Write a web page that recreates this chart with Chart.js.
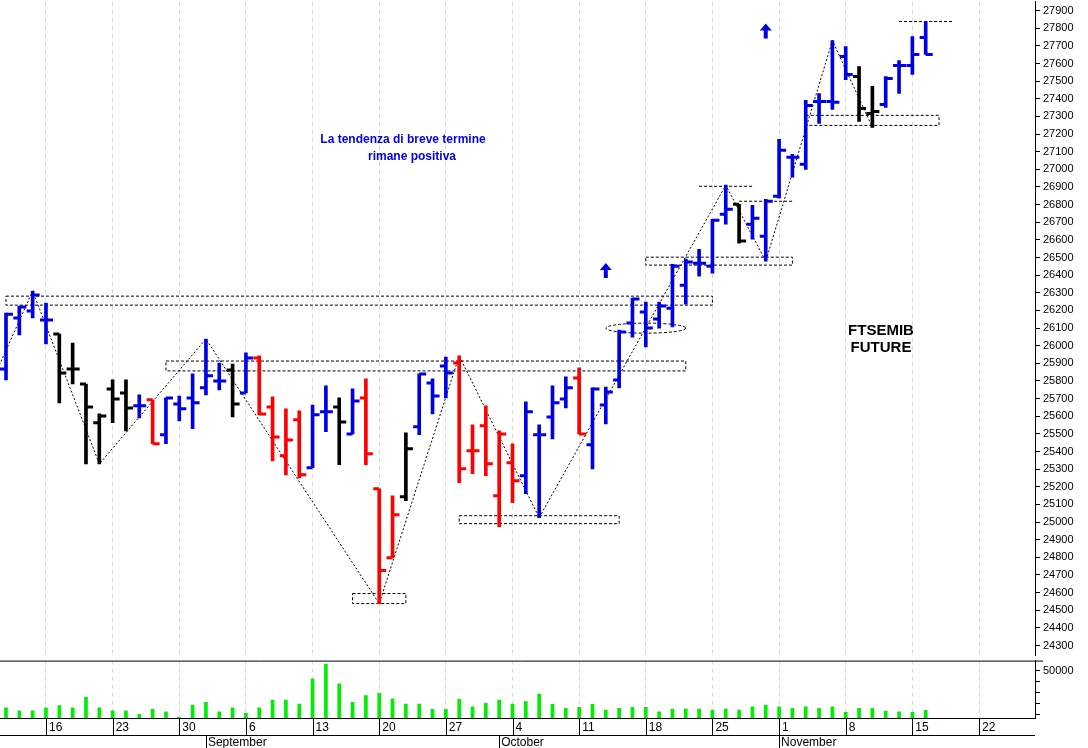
<!DOCTYPE html>
<html>
<head>
<meta charset="utf-8">
<script src="https://cdn.jsdelivr.net/npm/chart.js@4"></script>
<style>
  body { margin: 0; background: #fff; overflow: hidden; }
  #wrap { position: relative; width: 1088px; height: 748px; overflow: hidden; }
  #priceBox { position: absolute; left: 0; top: -8px; width: 1088px; height: 673px; }
  #volBox { position: absolute; left: 0; top: 651px; width: 1088px; height: 97px; }
</style>
</head>
<body>
<div id="wrap">
  <div id="priceBox"><canvas id="priceChart"></canvas></div>
  <div id="volBox"><canvas id="volChart"></canvas></div>
</div>
<script>
"use strict";

// trading day index 0 = Wed 11 Aug
const opens  = [25868,26157,26197,26145,26066,25868,25783,25563,25755,25732,25659,25693,25495,25670,25704,25761,25800,25862,25732,25930,25653,25376,25580,25308,25625,25653,25500,25704,25189,24798,25144,25540,25789,25885,25902,25404,25546,25149,25336,25263,25495,25596,25698,25817,25438,25664,25806,26129,26191,26151,26213,26343,26468,26451,26745,26802,26689,26621,26847,27068,27029,27385,27385,27640,27526,27317,27368,27589,27589,27747];
const highs  = [26185,26225,26310,26242,26066,26015,25783,25613,25806,25806,25721,25693,25704,25715,25840,26038,25902,25896,25959,25942,25710,25642,25630,25664,25772,25704,25755,25812,25189,25149,25506,25840,25812,25936,25942,25551,25659,25517,25444,25682,25551,25772,25823,25874,25761,25766,26089,26270,26248,26248,26462,26491,26547,26717,26910,26802,26796,26830,27170,27085,27391,27430,27730,27696,27583,27470,27526,27617,27753,27838];
const lows   = [25806,26061,26157,26010,25676,25783,25330,25330,25563,25517,25591,25444,25444,25574,25529,25721,25749,25596,25732,25608,25347,25268,25251,25308,25512,25325,25500,25325,24538,24798,25121,25495,25613,25704,25223,25274,25263,24974,25110,25161,25025,25472,25647,25500,25302,25557,25761,26049,25993,26100,26106,26236,26394,26411,26689,26581,26604,26479,26836,26955,27000,27260,27340,27509,27272,27238,27351,27430,27538,27651];
const closes = [26179,26220,26287,26145,25845,25868,25653,25602,25698,25647,25659,25444,25704,25642,25676,25829,25800,25670,25930,25613,25483,25466,25268,25608,25625,25568,25687,25387,24725,25042,25416,25840,25715,25845,25302,25404,25330,25500,25234,25625,25495,25676,25761,25500,25755,25738,26078,26265,26100,26225,26451,26474,26468,26711,26774,26593,26723,26819,27108,27068,27362,27385,27380,27538,27345,27328,27515,27589,27651,27651];
// trend signal per bar: 1 positive, -1 negative, 0 neutral
const trend  = [1,1,1,1,0,0,0,0,0,0,1,-1,1,1,1,1,1,0,1,-1,-1,-1,-1,1,1,0,1,-1,-1,-1,0,1,1,1,-1,-1,-1,-1,-1,1,1,1,1,-1,1,1,1,1,1,1,1,1,1,1,1,0,1,1,1,1,1,1,1,1,0,0,1,1,1,1];
const volumes = [16000,13200,13200,16000,17900,16000,25600,16000,13200,13200,9900,14500,12300,7100,18500,21000,12300,16000,10800,16000,23100,23100,19400,42600,56200,38000,21000,27100,29300,24100,19400,19400,14500,14500,23800,16900,20100,23100,19400,21600,28700,19200,15500,16400,19200,13900,15500,16400,16400,12300,14800,14800,14800,13900,14800,13900,16900,18500,16900,15500,16900,15500,16900,11700,15500,15500,12900,12300,11700,13600];

const mondayIdx = [3,8,13,18,23,28,33,38,43,48,53,58,63,68,73];
const mondayLabels = ["16","23","30","6","13","20","27","4","11","18","25","1","8","15","22"];
const monthStarts = [15,37,58];
const monthNames = ["September","October","November"];

// support / resistance boxes [x0, x1, priceLow, priceHigh]
const boxes = [[0,53,26230,26281],[12,51,25857,25913],[26,30,24538,24595],[34,46,24991,25036],[48,59,26457,26502],[60,70,27249,27306]];
const zones = [[45,51,26071,26128]];
const levels = [[52,56,26904],[55,59,26819],[67,71,27838]];
const swingX = [-0.5,2,7,15,28,34,40,54,57,62,65];
const swingY = [25890,26310,25330,26038,24538,25942,25025,26910,26479,27730,27238];
const arrowsX = [45,57];
const arrowsY = [26423,27781];

const X_MIN = -0.45, X_MAX = 77.2;
const BLUE = "#0000e6", RED = "#ff0000", BLACK = "#000000";
const FONT = "Liberation Sans, Arial, sans-serif";

function barColor(i) {
  return trend[i] > 0 ? BLUE : (trend[i] < 0 ? RED : BLACK);
}

const idx = opens.map((_, i) => i);

const ohlcTicks = {
  id: "ohlcTicks",
  afterDatasetsDraw(chart) {
    const { ctx, scales: { x, y } } = chart;
    ctx.save();
    ctx.lineWidth = 3;
    idx.forEach(i => {
      const px = x.getPixelForValue(i);
      ctx.strokeStyle = barColor(i);
      ctx.beginPath();
      ctx.moveTo(px - 6, y.getPixelForValue(opens[i]));
      ctx.lineTo(px, y.getPixelForValue(opens[i]));
      ctx.moveTo(px, y.getPixelForValue(closes[i]));
      ctx.lineTo(px + 7, y.getPixelForValue(closes[i]));
      ctx.stroke();
    });
    ctx.restore();
  }
};

const studies = {
  id: "studies",
  beforeDatasetsDraw(chart) {
    const { ctx, scales: { x, y } } = chart;
    ctx.save();
    ctx.strokeStyle = "#000";
    ctx.lineWidth = 1;
    ctx.setLineDash([3, 2]);
    boxes.forEach(b => {
      const x0 = x.getPixelForValue(b[0]), x1 = x.getPixelForValue(b[1]);
      const y0 = y.getPixelForValue(b[3]), y1 = y.getPixelForValue(b[2]);
      ctx.strokeRect(x0, y0, x1 - x0, y1 - y0);
    });
    zones.forEach(z => {
      const x0 = x.getPixelForValue(z[0]), x1 = x.getPixelForValue(z[1]);
      const y0 = y.getPixelForValue(z[3]), y1 = y.getPixelForValue(z[2]);
      ctx.beginPath();
      ctx.ellipse((x0 + x1) / 2, (y0 + y1) / 2, (x1 - x0) / 2, (y1 - y0) / 2, 0, 0, Math.PI * 2);
      ctx.stroke();
    });
    levels.forEach(l => {
      ctx.beginPath();
      ctx.moveTo(x.getPixelForValue(l[0]), y.getPixelForValue(l[2]));
      ctx.lineTo(x.getPixelForValue(l[1]), y.getPixelForValue(l[2]));
      ctx.stroke();
    });
    ctx.setLineDash([2, 2]);
    ctx.beginPath();
    swingX.forEach((v, k) => {
      const px = x.getPixelForValue(v), py = y.getPixelForValue(swingY[k]);
      if (k === 0) ctx.moveTo(px, py); else ctx.lineTo(px, py);
    });
    ctx.stroke();
    ctx.setLineDash([]);

    // arrows
    ctx.fillStyle = BLUE;
    arrowsX.forEach((v, k) => {
      const px = x.getPixelForValue(v), py = y.getPixelForValue(arrowsY[k]);
      ctx.beginPath();
      ctx.moveTo(px, py - 8);
      ctx.lineTo(px + 6, py - 1);
      ctx.lineTo(px + 2, py - 1);
      ctx.lineTo(px + 2, py + 7);
      ctx.lineTo(px - 2, py + 7);
      ctx.lineTo(px - 2, py - 1);
      ctx.lineTo(px - 6, py - 1);
      ctx.closePath();
      ctx.fill();
    });

    // notes (canvas is shifted 8px up)
    ctx.textAlign = "center";
    ctx.textBaseline = "middle";
    ctx.fillStyle = BLUE;
    ctx.font = "bold 12px " + FONT;
    ctx.fillText("La tendenza di breve termine", 403, 148);
    ctx.fillText("rimane positiva", 412, 165);
    ctx.fillStyle = "#000";
    ctx.font = "bold 15px " + FONT;
    ctx.fillText("FTSEMIB", 881, 339);
    ctx.fillText("FUTURE", 881, 356);
    ctx.restore();
  }
};

function mondayTicks(axis) {
  axis.ticks = mondayIdx.map(v => ({ value: v }));
}

new Chart(document.getElementById("priceChart"), {
  type: "bar",
  data: {
    datasets: [{
      data: idx.map(i => ({ x: i, y: [lows[i], highs[i]] })),
      backgroundColor: idx.map(barColor),
      barThickness: 3,
      grouped: false
    }]
  },
  options: {
    responsive: true,
    maintainAspectRatio: false,
    animation: false,
    layout: { padding: 0 },
    plugins: { legend: { display: false }, tooltip: { enabled: false } },
    scales: {
      x: {
        type: "linear",
        offset: false,
        min: X_MIN, max: X_MAX,
        afterBuildTicks: mondayTicks,
        ticks: { display: false },
        grid: { color: "#d8d8d8", tickLength: 0, offset: false },
        border: { display: false, dash: [4, 4] }
      },
      y: {
        position: "right",
        min: 24244, max: 27951,
        afterBuildTicks(axis) {
          const t = [];
          for (let v = 24300; v <= 27900; v += 100) t.push({ value: v });
          axis.ticks = t;
        },
        afterFit(axis) { axis.width = 53; },
        ticks: { color: "#000", font: { family: FONT, size: 11 }, padding: 3, callback: v => String(v) },
        grid: { drawOnChartArea: false, tickLength: 5, color: "#000" },
        border: { color: "#000" }
      }
    }
  },
  plugins: [studies, ohlcTicks]
});

const dateRows = {
  id: "dateRows",
  afterDraw(chart) {
    const { ctx, chartArea: a, scales: { x } } = chart;
    ctx.save();
    ctx.strokeStyle = "#000";
    ctx.lineWidth = 1;
    ctx.beginPath();
    ctx.moveTo(0, a.top + 0.5); ctx.lineTo(a.right + 8, a.top + 0.5);
    ctx.moveTo(0, a.bottom + 0.5); ctx.lineTo(a.right, a.bottom + 0.5);
    ctx.moveTo(0, a.bottom + 17.5); ctx.lineTo(a.right, a.bottom + 17.5);
    mondayIdx.forEach(v => {
      const px = Math.round(x.getPixelForValue(v)) + 0.5;
      ctx.moveTo(px, a.bottom); ctx.lineTo(px, a.bottom + 17);
    });
    monthStarts.forEach(v => {
      const px = Math.round(x.getPixelForValue(v)) + 0.5;
      ctx.moveTo(px, a.bottom + 17); ctx.lineTo(px, a.bottom + 30);
    });
    ctx.stroke();
    ctx.fillStyle = "#000";
    ctx.font = "12px " + FONT;
    ctx.textBaseline = "middle";
    mondayIdx.forEach((v, k) => {
      ctx.fillText(mondayLabels[k], x.getPixelForValue(v) + 3, a.bottom + 10);
    });
    monthStarts.forEach((v, k) => {
      ctx.fillText(monthNames[k], x.getPixelForValue(v) + 2, a.bottom + 25);
    });
    ctx.restore();
  }
};

new Chart(document.getElementById("volChart"), {
  type: "bar",
  data: {
    datasets: [{
      data: idx.map(i => ({ x: i, y: volumes[i] })),
      backgroundColor: "#00ee00",
      barThickness: 3
    }]
  },
  options: {
    responsive: true,
    maintainAspectRatio: false,
    animation: false,
    layout: { padding: { top: 0, bottom: 30 } },
    plugins: { legend: { display: false }, tooltip: { enabled: false } },
    scales: {
      x: {
        type: "linear",
        offset: false,
        min: X_MIN, max: X_MAX,
        afterBuildTicks: mondayTicks,
        afterFit(axis) { axis.height = 0; },
        ticks: { display: false },
        grid: { color: "#d8d8d8", tickLength: 0, offset: false },
        border: { display: false, dash: [4, 4] }
      },
      y: {
        position: "right",
        min: 6500, max: 59500,
        afterBuildTicks(axis) {
          const t = [];
          for (let v = 10000; v <= 50000; v += 10000) t.push({ value: v });
          axis.ticks = t;
        },
        afterFit(axis) { axis.width = 53; },
        ticks: {
          color: "#000", font: { family: FONT, size: 11 }, padding: 3,
          callback: v => (v === 50000 ? "50000" : "")
        },
        grid: { drawOnChartArea: false, tickLength: 5, color: "#000" },
        border: { color: "#000" }
      }
    }
  },
  plugins: [dateRows]
});
</script>
</body>
</html>
